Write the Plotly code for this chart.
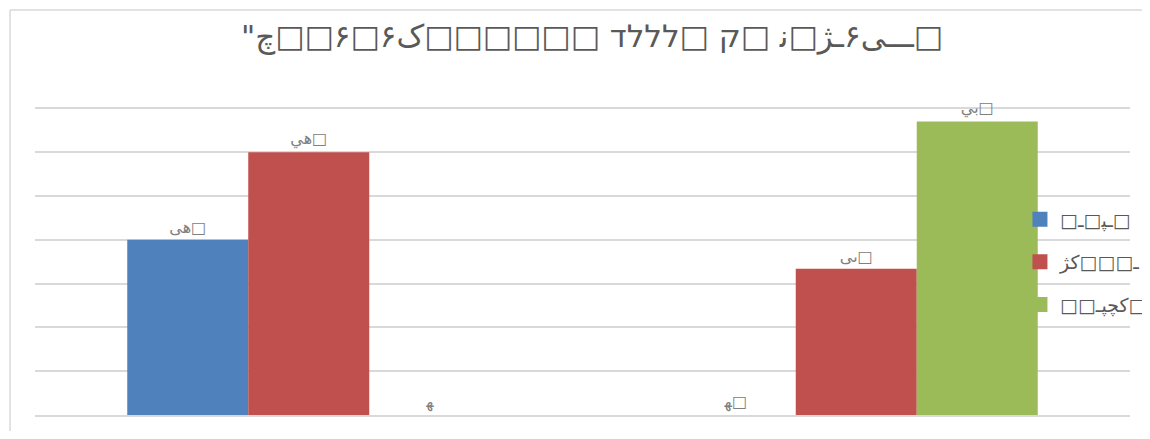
import plotly.graph_objects as go

# text as it shows in the picture, in visual order (left to right)
title_vis = '"چ□□۶□۶ک□□□□□□ דללל□ ק□ \u200dن□ژـ۶ىـــ□'
series_vis = ["□ـ□\u200dپـ□", "ژک□□□ـ", "□□ـپچک□"]
label_vis = [
    ["ىه□", "\u200dه\u200d□"],
    ["يه□", "ىى□"],
    ["\u200dه\u200d", "يب□"],
]

categories = ["c1", "c2"]
values = [
    [4, 0],
    [6, 3.34],
    [0, 6.7],
]
colors = ["#4f81bd", "#c0504d", "#9bbb59"]


def rtl(s):
    # neutrals on the far left stay left-to-right, the rest is laid out right to left
    n = 0
    while n < len(s) and s[n] in '□" ':
        n += 1
    return s[:n] + "\u200f" + s[n:][::-1]


fig = go.Figure()
for i in range(3):
    fig.add_trace(go.Bar(
        x=categories, y=values[i], name=rtl(series_vis[i]),
        marker=dict(color=colors[i], line=dict(width=0)),
        text=[rtl(t) for t in label_vis[i]], textposition="outside",
        textfont=dict(size=16, color="#808080"), cliponaxis=False,
        showlegend=False,
    ))
# legend swatches
for i in range(3):
    fig.add_trace(go.Scatter(
        x=[categories[0]], y=[None], mode="markers", name=rtl(series_vis[i]),
        marker=dict(symbol="square", size=15, color=colors[i]),
        legendgroup=str(i), showlegend=True, hoverinfo="skip",
    ))

# the page body has an 8px margin; the figure runs past the right edge of the
# window (as the legend does in the picture) so the legend does not squeeze the plot
fig.update_layout(
    width=1250, height=423,
    paper_bgcolor="white", plot_bgcolor="white",
    font=dict(family="DejaVu Sans, Noto Sans, sans-serif", color="#595959"),
    title=dict(text=rtl(title_vis), x=584 / 1250, xanchor="center", y=1 - 28 / 423, yanchor="middle",
               font=dict(size=31, color="#595959")),
    margin=dict(l=27, r=128, t=99, b=16),
    barmode="group", bargap=0.337, bargroupgap=0,
    showlegend=True,
    legend=dict(x=0.8995, y=0.697, xanchor="left", yanchor="top",
                bgcolor="rgba(0,0,0,0)", font=dict(size=19, color="#595959"),
                tracegroupgap=15, itemwidth=30),
    xaxis=dict(showticklabels=False, showgrid=False, showline=True,
               linecolor="#d9d9d9", linewidth=1.5, ticks=""),
    yaxis=dict(range=[0, 7.03], dtick=1, showticklabels=False, showgrid=True,
               gridcolor="#d9d9d9", gridwidth=1.5, zeroline=False, ticks=""),
    shapes=[
        dict(type="line", xref="paper", yref="paper", x0=-0.0228, x1=1.1,
             y0=1.315, y1=1.315, line=dict(color="#d9d9d9", width=1.5)),
        dict(type="line", xref="paper", yref="paper", x0=-0.0228, x1=-0.0228,
             y0=1.315, y1=-0.2, line=dict(color="#d9d9d9", width=1.5)),
    ],
)

fig.write_html("out.html")
